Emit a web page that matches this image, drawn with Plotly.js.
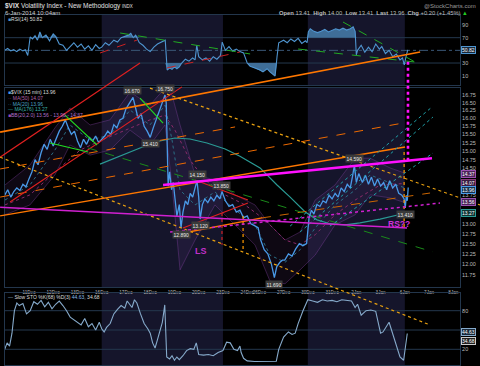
<!DOCTYPE html>
<html><head><meta charset="utf-8">
<script src="https://cdn.plot.ly/plotly-3.0.1.min.js"></script>
<style>html,body{margin:0;padding:0;background:#000;}#chart{width:480px;height:366px;}</style>
</head><body><div id="chart"></div>
<script>
// ---------- DATA ----------
const dayTicks = [0,1,2,3,4,5,6,7,8,9,10,10.5,11.5,12.5,13.5,14.5,15.5,16.5,17.5,18.5];
const dayLabels = ['10Dec','11Dec','12Dec','13Dec','16Dec','17Dec','18Dec','19Dec','20Dec','23Dec','24Dec','26Dec','27Dec','30Dec','31Dec','2Jan','3Jan','6Jan','7Jan','8Jan'];
const priceTicks = [11.75,12,12.25,12.5,12.75,13,13.75,14.5,14.75,15,15.25,15.5,15.75,16,16.25,16.5,16.75];
const rsiTicks = [10,30,70,90];
const stoTicks = [20,80];
const shadeStart = [4, 12.5];
const shadeEnd = [9, 16.5];

const priceX = [0,0.125,0.25,0.375,0.5,0.625,0.75,0.875,1,
 1.125,1.25,1.375,1.5,1.625,1.75,1.875,2,
 2.125,2.25,2.375,2.5,2.625,2.75,2.875,3,
 3.125,3.25,3.375,3.5,3.625,3.75,3.875,4,
 4.125,4.25,4.375,4.5,4.625,4.75,4.875,5,
 5.125,5.29,5.375,5.5,5.625,5.75,5.875,6,
 6.125,6.25,6.375,6.5,6.61,6.66,6.7,6.74,6.8,6.88,6.95,7,
 7.1,7.2,7.27,7.35,7.45,7.55,7.65,7.75,7.85,7.93,8,
 8.06,8.15,8.25,8.375,8.5,8.625,8.75,8.875,8.96,
 9.1,9.25,9.4,9.55,9.7,9.85,10,
 10.15,10.3,10.45,
 10.55,10.7,10.85,11,11.12,11.22,11.35,11.45,
 11.55,11.7,11.85,12,12.15,12.3,12.45,
 12.55,12.65,12.75,12.875,13,13.125,13.25,13.375,13.5,
 13.625,13.75,13.875,14,14.125,14.25,14.35,14.42,
 14.5,14.6,14.75,14.875,15,15.125,15.25,15.375,15.5,
 15.625,15.75,15.875,16,16.125,16.25,16.375,16.47,
 16.52,16.56,16.6,16.64];
const priceY = [13.75,13.9,13.7,13.85,13.95,13.88,14.05,13.98,14.2,
 14.4,14.75,14.6,14.95,15.2,15.05,15.35,15.15,
 15.4,15.6,15.75,15.95,15.7,15.5,15.6,15.3,
 15.1,15.35,15.2,15.4,15.3,15.45,15.25,15.35,
 15.45,15.6,15.5,15.8,15.7,15.95,16.0,16.3,
 16.45,16.67,16.4,16.0,16.15,15.75,15.6,15.41,
 15.7,15.95,16.2,16.45,16.75,16.5,14.8,14.0,14.4,13.9,14.1,13.8,
 13.2,13.5,12.89,13.3,13.6,13.5,13.8,13.7,14.0,14.15,13.7,
 13.12,13.5,13.65,13.55,13.7,13.6,13.75,13.65,13.85,
 13.6,13.45,13.5,13.3,13.35,13.15,13.2,
 13.0,12.95,12.9,
 12.6,12.35,12.25,12.0,11.69,11.95,12.05,12.1,
 12.1,12.25,12.2,12.37,12.5,12.45,12.5,
 13.15,13.35,13.25,13.5,13.45,13.6,13.55,13.75,13.65,
 13.8,13.7,13.95,13.85,14.05,13.95,14.3,14.59,
 14.1,14.35,14.1,14.3,14.05,14.25,14.0,14.2,14.0,
 14.1,13.9,14.15,13.95,14.05,13.8,13.75,13.65,
 13.41,13.75,13.6,13.96];

const ma20X = [0.01,1.04,2.07,2.69,3.52,4.34,5.17,5.99,6.61,6.9,7.23,7.85,8.67,9.5,10.32,10.94,11.56,12.18,12.8,13.62,14.45,15.07,15.89,16.47];
const ma20Y = [13.62,14.03,15.03,15.79,15.33,15.48,16.26,15.79,16.42,15.33,13.89,13.49,13.84,13.36,12.97,12.22,12.05,12.35,12.89,13.49,13.89,14.31,14.09,13.96];
const bbUpperY = [14.03,14.59,15.70,16.33,15.79,15.95,16.85,16.42,16.98,16.75,15.79,14.31,14.17,13.76,13.49,12.97,12.59,12.79,13.62,14.03,14.79,14.79,14.51,14.37];
const bbLowerY = [13.23,13.49,14.31,15.18,14.88,15.03,15.63,15.18,15.79,14.03,11.87,12.59,13.49,12.97,12.47,11.61,11.55,11.87,12.22,12.97,13.23,13.76,13.68,13.56];
const ma50X = [0.01,1.04,2.07,3.11,4.01,5.0,5.99,6.61,7.02,7.64,8.26,9.09,9.91,10.73,11.56,12.18,12.8,13.62,14.45,15.48,16.47];
const ma50Y = [13.49,13.76,14.39,15.03,15.33,15.63,15.95,16.10,15.63,14.74,14.17,13.76,13.49,13.10,12.59,12.47,12.72,13.23,13.62,14.03,14.07];
const ma176X = [3.93,4.76,5.58,6.4,7.02,7.64,8.34,9.09,9.7,10.53,11.23,11.77,12.38,12.88,13.41,14.03,14.65,15.48,16.51];
const ma176Y = [14.62,14.85,15.09,15.30,15.39,15.36,15.24,15.06,14.85,14.51,14.03,13.70,13.31,13.10,13.00,12.97,13.02,13.12,13.27];

const rsiX = [0,0.12,0.25,0.37,0.5,0.62,0.75,0.85,0.95,1.05,1.15,1.25,1.35,1.45,1.55,1.7,1.85,2.0,2.1,2.25,2.4,2.55,2.7,2.85,3.0,3.15,3.3,3.45,3.6,3.75,3.9,4.0,4.15,4.3,4.5,4.65,4.8,4.95,5.1,5.2,5.3,5.4,5.55,5.7,5.85,6.0,6.15,6.3,6.45,6.62,6.7,6.8,6.9,7.0,7.1,7.2,7.3,7.45,7.6,7.75,7.85,7.92,8.0,8.15,8.3,8.45,8.6,8.75,8.9,8.97,9.1,9.25,9.4,9.55,9.7,9.85,10.0,10.12,10.32,10.53,10.65,10.82,10.94,11.15,11.23,11.3,11.5,11.65,11.8,11.95,12.1,12.25,12.4,12.47,12.52,12.6,12.75,12.9,13.05,13.2,13.35,13.5,13.65,13.8,13.95,14.1,14.25,14.37,14.45,14.5,14.55,14.7,14.85,15.0,15.15,15.3,15.45,15.55,15.7,15.85,16.0,16.15,16.3,16.4,16.48,16.55,16.62];
const rsiY = [50,53,49,51,48,52,49,51,42,71,68,73,66,79,70,74,65,76,72,60,58,50,56,62,55,60,52,57,50,59,53,55,62,58,66,63,70,72,74,77,70,74,62,58,52,48,55,60,63,66,19,22,20,24,21,24,30,36,33,38,35,58,40,35,38,33,40,36,42,63,50,56,49,52,48,46,30,25,22,19,16,21,16,9.5,40,62,66,62,68,64,69,61,65,62,79,84,80,78,80,83,79,81,84,82,85,82,84,87,80,43,50,58,47,55,48,60,52,56,45,50,40,44,35,38,27,40,50.82];

const stoX = [0,0.1,0.2,0.3,0.4,0.5,0.6,0.75,0.9,1.05,1.2,1.35,1.5,1.65,1.8,1.95,2.1,2.25,2.4,2.55,2.7,2.85,3.0,3.15,3.3,3.45,3.6,3.75,3.9,4.0,4.1,4.2,4.35,4.5,4.65,4.8,4.95,5.05,5.15,5.25,5.35,5.45,5.6,5.75,5.9,6.0,6.1,6.2,6.3,6.4,6.5,6.6,6.68,6.8,6.9,7.0,7.1,7.2,7.35,7.5,7.65,7.8,7.9,8.0,8.2,8.4,8.6,8.8,9.0,9.15,9.3,9.45,9.6,9.7,9.75,9.85,10.0,10.3,10.6,10.9,11.2,11.3,11.5,11.7,11.85,11.98,12.1,12.3,12.5,12.7,12.9,13.1,13.3,13.5,13.7,13.9,14.1,14.3,14.45,14.55,14.7,14.9,15.1,15.3,15.5,15.6,15.85,16.1,16.3,16.45,16.6];
const stoY = [20,30,25,45,80,92,88,91,75,80,94,90,96,86,93,83,90,95,88,80,70,66,62,58,68,55,60,50,62,52,47,54,60,75,82,88,84,95,90,85,97,92,75,60,52,45,30,22,35,50,62,89,8,5,10,3,8,4,10,18,21,20,30,12,11,12,10,15,18,31,30,20,18,25,15,6,2,1,1.5,1,1.5,20,39,47,43,45,60,80,97,95,93,97,95,96,94,97,96,95,85,90,73,80,81,79,45,47,62,30,8,3,44.63];

// trend lines (x in trading-day units, y in price / indicator units)
const redUpX=[-0.19,5.58], redUpY=[14.82,17.84];
const redLowX=[0.22,7.31], redLowY=[13.57,17.02];
const orgTopX=[-0.19,17.13], orgTopY=[15.57,18.23];
const orgMidX=[-0.19,16.51], orgMidY=[13.20,15.12];
const orgDash1X=[-0.19,16.63], orgDash1Y=[13.70,15.88];
const orgDash2X=[-0.19,9.50], orgDash2Y=[14.48,15.73];
const orgLowX=[7.15,10.61], orgLowY=[12.74,13.15];
const orgLowDashX=[10.61,17.54], orgLowDashY=[13.15,13.81];
const yelUpX=[5.99,19.6], yelUpY=[16.98,13.49];
const yelLowX=[-0.19,17.54], yelLowY=[14.82,10.65];
const magNeckX=[6.53,17.62], magNeckY=[14.03,14.79];
const magVertX=[16.63,16.63], magVertY=[17.88,14.74];
const magBaseX=[-0.19,16.59], magBaseY=[13.43,12.89];
const magDotX=[6.82,17.95], magDotY=[12.79,13.54];
const grnDashX=[3.44,17.66], grnDashY=[15.09,12.30];
const grn1X=[2.49,3.81], grn1Y=[16.10,15.18];
const grn2X=[1.87,3.44], grn2Y=[15.24,14.97];
const grn3X=[5.58,6.53], grn3Y=[16.65,15.85];
const redTri1X=[7.85,10.03], redTri1Y=[14.17,13.62];
const redTri2X=[7.35,10.03], redTri2Y=[12.89,13.54];
const redVertX=[8.96,8.96], redVertY=[13.28,12.47];
const orgVert1X=[9.83,9.83], orgVert1Y=[13.20,12.30];
const orgVert2X=[16.47,16.47], orgVert2Y=[14.97,12.84];
const cyan1X=[11.77,17.62], cyan1Y=[12.94,16.36];
const cyan2X=[12.18,17.66], cyan2Y=[12.79,16.04];
const cyan3X=[13.41,17.66], cyan3Y=[12.94,14.94];
const rsiGrn1X=[4.76,10.12], rsiGrn1Y=[77.4,44.3];
const rsiGrn2X=[12.10,16.92], rsiGrn2Y=[52.1,31.6];
const rsiGrn3X=[13.95,16.92], rsiGrn3Y=[94.7,31.6];
const rsiRed1X=[3.93,5.46], rsiRed1Y=[45.8,66.3];
const rsiRed2X=[6.69,9.70], rsiRed2Y=[22.2,47.4];

// price callouts
const calloutX = [5.29,6.61,6.0,7.93,8.96,7.27,8.06,11.12,14.42,16.52];
const calloutY = [16.67,16.75,15.41,14.15,13.85,12.89,13.12,11.69,14.59,13.41];
const calloutHigh = [true,true,false,true,true,false,false,false,true,false];

const lastBBU=14.37, lastMA50=14.07, lastPrice=13.96, lastBBL=13.56, lastMA176=13.27, lastRSI=50.82, lastK=44.63, lastD=34.68;

// ---------- BUILD ----------
const W=480,H=366;
const px=v=>v/W, py=v=>1-v/H;
const xDom=[px(5),px(460)];
const lg=Math.log10;

const traces=[];
function seg(x,y,color,width,dash,ax){
  traces.push({x:x,y:y,type:'scatter',mode:'lines',xaxis:ax[0],yaxis:ax[1],
    line:{color:color,width:width,dash:dash||'solid'},hoverinfo:'skip'});
}
const OV=['x4','y4'], RS=['x2','y2'];

// BB fill
traces.push({x:ma20X,y:bbUpperY,type:'scatter',mode:'lines',xaxis:'x',yaxis:'y',line:{color:'rgba(140,70,170,0.45)',width:0.8}});
traces.push({x:ma20X,y:bbLowerY,type:'scatter',mode:'lines',xaxis:'x',yaxis:'y',fill:'tonexty',fillcolor:'rgba(110,60,150,0.13)',line:{color:'rgba(140,70,170,0.45)',width:0.8}});
traces.push({x:ma20X,y:ma20Y,type:'scatter',mode:'lines',xaxis:'x',yaxis:'y',line:{color:'#2a6f86',width:1,dash:'dot'}});
traces.push({x:ma50X,y:ma50Y,type:'scatter',mode:'lines',xaxis:'x',yaxis:'y',line:{color:'#8a2a6a',width:1,dash:'dot'}});
traces.push({x:ma176X,y:ma176Y,type:'scatter',mode:'lines',xaxis:'x',yaxis:'y',line:{color:'#2a9a94',width:1.2}});
traces.push({x:priceX,y:priceY,type:'scatter',mode:'lines',xaxis:'x',yaxis:'y',line:{color:'#4a9ae8',width:1.3}});

// RSI with fills
const c70=rsiX.map(()=>70), c30=rsiX.map(()=>30);
traces.push({x:rsiX,y:c70,type:'scatter',mode:'lines',xaxis:'x2',yaxis:'y2',line:{width:0,color:'rgba(0,0,0,0)'}});
traces.push({x:rsiX,y:rsiY.map(v=>Math.max(v,70)),type:'scatter',mode:'lines',xaxis:'x2',yaxis:'y2',fill:'tonexty',fillcolor:'#3f6e98',line:{width:0,color:'rgba(0,0,0,0)'}});
traces.push({x:rsiX,y:c30,type:'scatter',mode:'lines',xaxis:'x2',yaxis:'y2',line:{width:0,color:'rgba(0,0,0,0)'}});
traces.push({x:rsiX,y:rsiY.map(v=>Math.min(v,30)),type:'scatter',mode:'lines',xaxis:'x2',yaxis:'y2',fill:'tonexty',fillcolor:'#3f6e98',line:{width:0,color:'rgba(0,0,0,0)'}});
traces.push({x:rsiX,y:rsiY,type:'scatter',mode:'lines',xaxis:'x2',yaxis:'y2',line:{color:'#4f95d0',width:1.1}});
seg(rsiGrn1X,rsiGrn1Y,'#22aa22',1,'dash',RS);
seg(rsiGrn2X,rsiGrn2Y,'#22aa22',1,'dash',RS);
seg(rsiGrn3X,rsiGrn3Y,'#22aa22',1,'dash',RS);
seg(rsiRed1X,rsiRed1Y,'#cc2222',1,'dash',RS);
seg(rsiRed2X,rsiRed2Y,'#cc2222',1,'dash',RS);

// STO
traces.push({x:stoX,y:stoY,type:'scatter',mode:'lines',xaxis:'x3',yaxis:'y3',line:{color:'#86aacb',width:1.1}});

// overlay trend lines (full-canvas axes)
seg(orgTopX,orgTopY,'#ff7700',1.6,'solid',OV);
seg(orgMidX,orgMidY,'#ff7700',1.3,'solid',OV);
seg(orgDash1X,orgDash1Y,'#ee6a00',1,'dash',OV);
seg(orgDash2X,orgDash2Y,'#ee6a00',1,'dash',OV);
seg(orgLowX,orgLowY,'#ff7700',1.3,'solid',OV);
seg(orgLowDashX,orgLowDashY,'#cc6600',1,'dash',OV);
seg(redUpX,redUpY,'#e02020',1.1,'solid',OV);
seg(redLowX,redLowY,'#e02020',1.1,'solid',OV);
seg(redTri1X,redTri1Y,'#e02020',1.1,'solid',OV);
seg(redTri2X,redTri2Y,'#e02020',1.1,'solid',OV);
seg(redVertX,redVertY,'#e02020',1.1,'dot',OV);
seg(yelUpX,yelUpY,'#e8a010',1.2,'dot',OV);
seg(yelLowX,yelLowY,'#e8a010',1.2,'dot',OV);
seg(grnDashX,grnDashY,'#1a8a1a',1,'dash',OV);
seg(grn1X,grn1Y,'#22dd22',1.1,'solid',OV);
seg(grn2X,grn2Y,'#22dd22',1.1,'solid',OV);
seg(grn3X,grn3Y,'#22dd22',1.1,'solid',OV);
seg(cyan1X,cyan1Y,'#1fa0a8',1,'dot',OV);
seg(cyan2X,cyan2Y,'#1fa0a8',1,'dot',OV);
seg(cyan3X,cyan3Y,'#1fa0a8',1,'dot',OV);
seg(orgVert1X,orgVert1Y,'#ff9900',1.2,'dot',OV);
seg(orgVert2X,orgVert2Y,'#ff9900',1.2,'dot',OV);
seg(magBaseX,magBaseY,'#d020d0',1.5,'solid',OV);
seg(magDotX,magDotY,'#d020d0',1.5,'dot',OV);
seg(magNeckX,magNeckY,'#ff10ff',2.6,'solid',OV);
seg(magVertX,magVertY,'#ff10ff',2.6,'dot',OV);

// ---------- LAYOUT ----------
const shapes=[];
['y','y2','y3'].forEach(ya=>{
  for(let i=0;i<shadeStart.length;i++){
    shapes.push({type:'rect',xref:'x',yref:ya+' domain',x0:shadeStart[i],x1:shadeEnd[i],y0:0,y1:1,
      fillcolor:'#15152b',line:{width:0},layer:'below'});
  }
});
[30,70].forEach(v=>shapes.push({type:'line',xref:'x2 domain',yref:'y2',x0:0,x1:1,y0:v,y1:v,line:{color:'#24384e',width:1},layer:'below'}));
shapes.push({type:'line',xref:'x2 domain',yref:'y2',x0:0,x1:1,y0:50,y1:50,line:{color:'#3a5878',width:1,dash:'dashdot'},layer:'below'});
[20,50,80].forEach(v=>shapes.push({type:'line',xref:'x3 domain',yref:'y3',x0:0,x1:1,y0:v,y1:v,line:{color:'#24384e',width:1},layer:'below'}));

const ann=[];
function txt(x,y,t,opt){ann.push(Object.assign({xref:'paper',yref:'paper',x:px(x),y:py(y),text:t,showarrow:false,xanchor:'left',yanchor:'middle',font:{size:5.5,color:'#dddddd'}},opt||{}));}
txt(3,6,"<b>$VIX</b> Volatility Index - New Methodology <span style='font-size:4.5px'>INDX</span>",{font:{size:6.5,color:'#e0e0e0'}});
txt(3,13,"6-Jan-2014 10:04am",{font:{size:6,color:'#cccccc'}});
txt(478,6,"@StockCharts.com",{xanchor:'right',font:{size:6,color:'#9a9a9a'}});
txt(470,13,"<b>Open</b> 13.41  <b>High</b> 14.00  <b>Low</b> 13.41  <b>Last</b> 13.96  <b>Chg</b> +0.20 (+1.45%) <span style='color:#22cc22'>▲</span>",{xanchor:'right',font:{size:5.8,color:'#bbbbbb'}});
txt(6,19,"<span style='color:#4f95d0'>■</span>RSI(14) 50.82",{font:{size:5,color:'#dddddd'}});
txt(6,92,"<span style='color:#4a9ae8'>■</span>$VIX (15 min) 13.96",{font:{size:5,color:'#dddddd'}});
txt(6,98,"<span style='color:#a0409a'>··</span> MA(50) 14.07",{font:{size:5,color:'#b060a8'}});
txt(6,103.5,"<span style='color:#2a8fa6'>··</span> MA(20) 13.96",{font:{size:5,color:'#4aa0c0'}});
txt(6,109,"<span style='color:#2a9a94'>—</span> MA(176) 13.27",{font:{size:5,color:'#3ab0a8'}});
txt(6,115,"<span style='color:#9a4ab8'>■</span>BB(20,2.0) 13.56 - 13.96 - 14.37",{font:{size:5,color:'#b070c8'}});
txt(6,297,"<span style='color:#86aacb'>—</span> Slow STO %K(68) %D(3) <span style='color:#86b8e8'>44.63</span>, 34.68",{font:{size:5,color:'#dddddd'}});

// callouts on price
for(let i=0;i<calloutX.length;i++){
  ann.push({xref:'x',yref:'y',x:calloutX[i],y:lg(calloutY[i]),text:calloutY[i].toFixed(3),showarrow:false,
    yanchor:calloutHigh[i]?'bottom':'top',yshift:calloutHigh[i]?2:-2,bgcolor:'#3a3a3a',borderpad:0.5,
    font:{size:5,color:'#e8e8e8'}});
}
ann.push({xref:'x',yref:'y',x:8.1,y:lg(12.32),text:'<b>LS</b>',showarrow:false,font:{size:9,color:'#c030c8'}});
ann.push({xref:'x',yref:'y',x:16.25,y:lg(13.0),text:'<b>RS??</b>',showarrow:false,font:{size:8.5,color:'#d030d8'}});

// right-axis value boxes
function box(yref,yv,t,bg,bc,sh){ann.push({xref:'paper',yref:yref,x:px(461),y:yv,yshift:sh||0,text:t,showarrow:false,xanchor:'left',yanchor:'middle',
  bgcolor:bg,bordercolor:bc,borderwidth:1,borderpad:0,font:{size:5,color:'#ffffff'}});}
box('y',lg(lastBBU),lastBBU.toFixed(2),'#4a2458','#9a50b0',-1);
box('y',lg(lastMA50),lastMA50.toFixed(2),'#3a1c40','#8a3a7a',0.5);
box('y',lg(lastPrice),lastPrice.toFixed(2),'#16324e','#4a9ae8',-2.5);
box('y',lg(lastBBL),lastBBL.toFixed(2),'#4a2458','#9a50b0',0);
box('y',lg(lastMA176),lastMA176.toFixed(2),'#0e3434','#2a9a94',0);
box('y2',lastRSI,lastRSI.toFixed(2),'#16283a','#4f95d0',0);
box('y3',lastK,lastK.toFixed(2),'#16283a','#86aacb',1.5);
box('y3',lastD,lastD.toFixed(2),'#222222','#cccccc',-1.5);

const axLine={showline:true,mirror:true,linecolor:'#23364c',linewidth:1,zeroline:false,showgrid:false,ticks:''};
const tf={size:5.5,color:'#bbbbbb'};
const layout={
  width:W,height:H,margin:{l:0,r:0,t:0,b:0},
  paper_bgcolor:'#000000',plot_bgcolor:'rgba(0,0,0,0)',
  showlegend:false,hovermode:false,
  font:{family:'Liberation Sans, Arial, sans-serif',size:6,color:'#cccccc'},
  xaxis:Object.assign({domain:xDom,anchor:'y',range:[0.012,18.775],tickmode:'array',tickvals:dayTicks,ticktext:dayLabels,tickangle:0,tickfont:{size:4.6,color:'#bbbbbb'}},axLine),
  yaxis:Object.assign({domain:[py(287),py(88)],anchor:'x',type:'log',range:[lg(11.477),lg(16.983)],side:'right',tickmode:'array',tickvals:priceTicks,ticktext:priceTicks.map(v=>v.toFixed(2)),tickfont:tf},axLine),
  xaxis2:Object.assign({domain:xDom,anchor:'y2',range:[0.012,18.775],showticklabels:false},axLine),
  yaxis2:Object.assign({domain:[py(85),py(15)],anchor:'x2',range:[-4.7,105.8],side:'right',tickmode:'array',tickvals:rsiTicks,tickfont:tf},axLine),
  xaxis3:Object.assign({domain:xDom,anchor:'y3',range:[0.012,18.775],showticklabels:false},axLine),
  yaxis3:Object.assign({domain:[py(365),py(293)],anchor:'x3',range:[-4.4,107.5],side:'right',tickmode:'array',tickvals:stoTicks,tickfont:tf},axLine),
  xaxis4:{domain:[0,1],anchor:'y4',range:[-0.194,19.6],visible:false,fixedrange:true},
  yaxis4:{domain:[0,1],anchor:'x4',type:'log',range:[0.99227,1.30528],visible:false,fixedrange:true},
  shapes:shapes,annotations:ann
};
Plotly.newPlot('chart',traces,layout,{staticPlot:true,displayModeBar:false});
</script></body></html>
